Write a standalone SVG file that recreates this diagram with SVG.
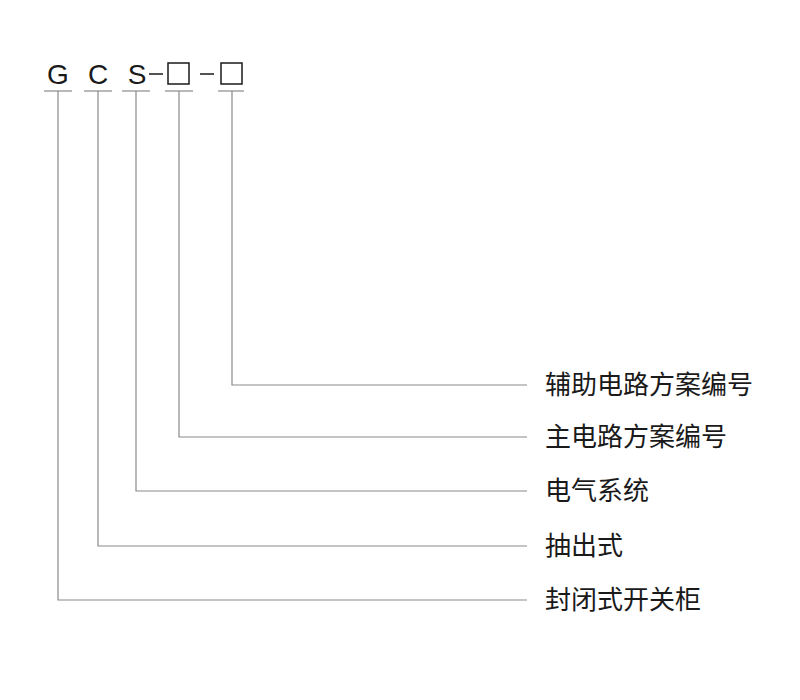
<svg xmlns="http://www.w3.org/2000/svg" width="800" height="700" viewBox="0 0 800 700">
<style>
.l{stroke:#8a8a8a;stroke-width:1.2;fill:none}
.t{font-family:"Noto Sans CJK SC","Liberation Sans",sans-serif;font-size:26px;fill:#1a1a1a}
.c{font-family:"Liberation Sans",sans-serif;font-size:28px;fill:#1a1a1a;text-anchor:middle}
.b{stroke:#1a1a1a;stroke-width:1.5;fill:none}
</style>
<rect width="800" height="700" fill="#fff"/>
<g id="code">
<text class="c" x="58" y="84">G</text>
<text class="c" x="98" y="84">C</text>
<text class="c" x="137" y="84">S</text>
<line class="b" x1="149" y1="74" x2="163" y2="74"/>
<rect class="b" x="168" y="63" width="21" height="21"/>
<line class="b" x1="200" y1="74" x2="214" y2="74"/>
<rect class="b" x="221" y="63" width="21" height="21"/>
</g>
<g id="connectors">
<line class="l" x1="44" y1="91" x2="72" y2="91"/>
<line class="l" x1="84" y1="91" x2="112" y2="91"/>
<line class="l" x1="122" y1="91" x2="150" y2="91"/>
<line class="l" x1="165" y1="91" x2="193" y2="91"/>
<line class="l" x1="218" y1="91" x2="244" y2="91"/>
<polyline class="l" points="232,91 232,385 527,385"/>
<polyline class="l" points="179,91 179,437 527,437"/>
<polyline class="l" points="136,91 136,491 527,491"/>
<polyline class="l" points="98,91 98,546 527,546"/>
<polyline class="l" points="58,91 58,600 527,600"/>
</g>
<g id="n1"><text class="t" x="545" y="394">辅助电路方案编号</text></g>
<g id="n2"><text class="t" x="545" y="446">主电路方案编号</text></g>
<g id="n3"><text class="t" x="545" y="500">电气系统</text></g>
<g id="n4"><text class="t" x="545" y="555">抽出式</text></g>
<g id="n5"><text class="t" x="545" y="609">封闭式开关柜</text></g>
</svg>
